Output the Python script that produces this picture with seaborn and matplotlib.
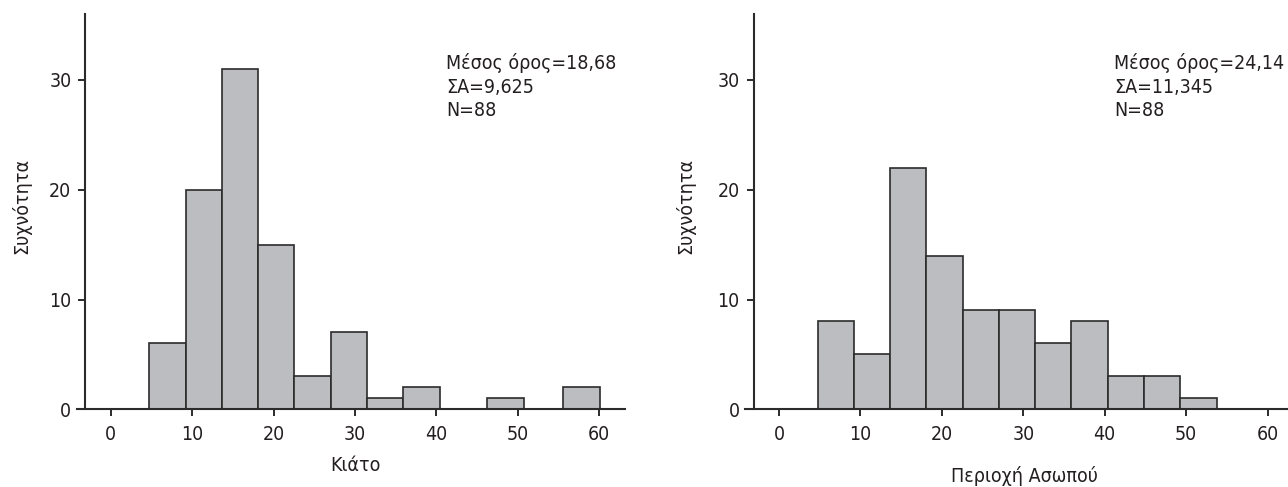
import numpy as np
import matplotlib
matplotlib.use("Agg")
import matplotlib.pyplot as plt
import seaborn as sns

# Δεδομένα (διαβασμένα από την εικόνα)
kiato_edges = [4.75, 9.2, 13.65, 18.1, 22.55, 27.0, 31.45, 35.9, 40.4, 46.25, 50.75, 55.6, 60.1]
kiato_counts = [6, 20, 31, 15, 3, 7, 1, 2, 0, 1, 0, 2]
kiato_stats = "Μέσος όρος=18,68\nΣΑ=9,625\nN=88"
kiato_label = "Κιάτο"

asopos_edges = [4.75, 9.2, 13.65, 18.1, 22.55, 27.0, 31.45, 35.9, 40.4, 44.85, 49.3, 53.75]
asopos_counts = [8, 5, 22, 14, 9, 9, 6, 8, 3, 3, 1]
asopos_stats = "Μέσος όρος=24,14\nΣΑ=11,345\nN=88"
asopos_label = "Περιοχή Ασωπού"

x_ticks = [0, 10, 20, 30, 40, 50, 60]
y_ticks = [0, 10, 20, 30]
y_label = "Συχνότητα"

sns.set_style("ticks")
plt.rcParams['font.family'] = ['DejaVu Sans']
plt.rcParams['font.stretch'] = 'condensed'
fs = 14
ink = "#231f20"
plt.rcParams['text.color'] = ink
plt.rcParams['axes.labelcolor'] = ink
plt.rcParams['xtick.color'] = ink
plt.rcParams['ytick.color'] = ink

fig = plt.figure(figsize=(12.88, 4.87), dpi=100)
ax1 = fig.add_axes([0.0595, 0.1595, 0.4257, 0.8117])
ax2 = fig.add_axes([0.5784, 0.1595, 0.4257, 0.8117])

panels = [
    (ax1, kiato_edges, kiato_counts, kiato_stats, kiato_label, -0.0834, -0.117),
    (ax2, asopos_edges, asopos_counts, asopos_stats, asopos_label, -0.0912, -0.143),
]

for ax, edges, counts, stats, xlab, ylab_x, xlab_y in panels:
    centers = [(a + b) / 2 for a, b in zip(edges[:-1], edges[1:])]
    sns.histplot(x=centers, weights=counts, bins=edges, ax=ax,
                 color="#bcbdc1", alpha=1, edgecolor="#2b2b2b", linewidth=1.2)
    ax.set_xlim(-4.18, 63.16)
    ax.set_ylim(0, 36)
    ax.set_xticks(x_ticks)
    ax.set_yticks(y_ticks)
    ax.spines['top'].set_visible(False)
    ax.spines['right'].set_visible(False)
    ax.spines['left'].set_position(('data', -3.12))
    for s in ['left', 'bottom']:
        ax.spines[s].set_linewidth(1.5)
        ax.spines[s].set_color("#2b2b2b")
    ax.tick_params(axis='both', length=5, width=1.4, color="#2b2b2b", labelsize=fs)
    ax.tick_params(axis='x', pad=6)
    ax.tick_params(axis='y', pad=5)
    ax.set_xlabel(xlab, fontsize=fs)
    ax.set_ylabel(y_label, fontsize=fs)
    ax.xaxis.set_label_coords(0.509, xlab_y)
    ax.yaxis.set_label_coords(ylab_x, 0.514)
    ax.text(41.2, 32.45, stats, ha='left', va='top', fontsize=fs, linespacing=1.3)

plt.savefig("out.png", dpi=100)
